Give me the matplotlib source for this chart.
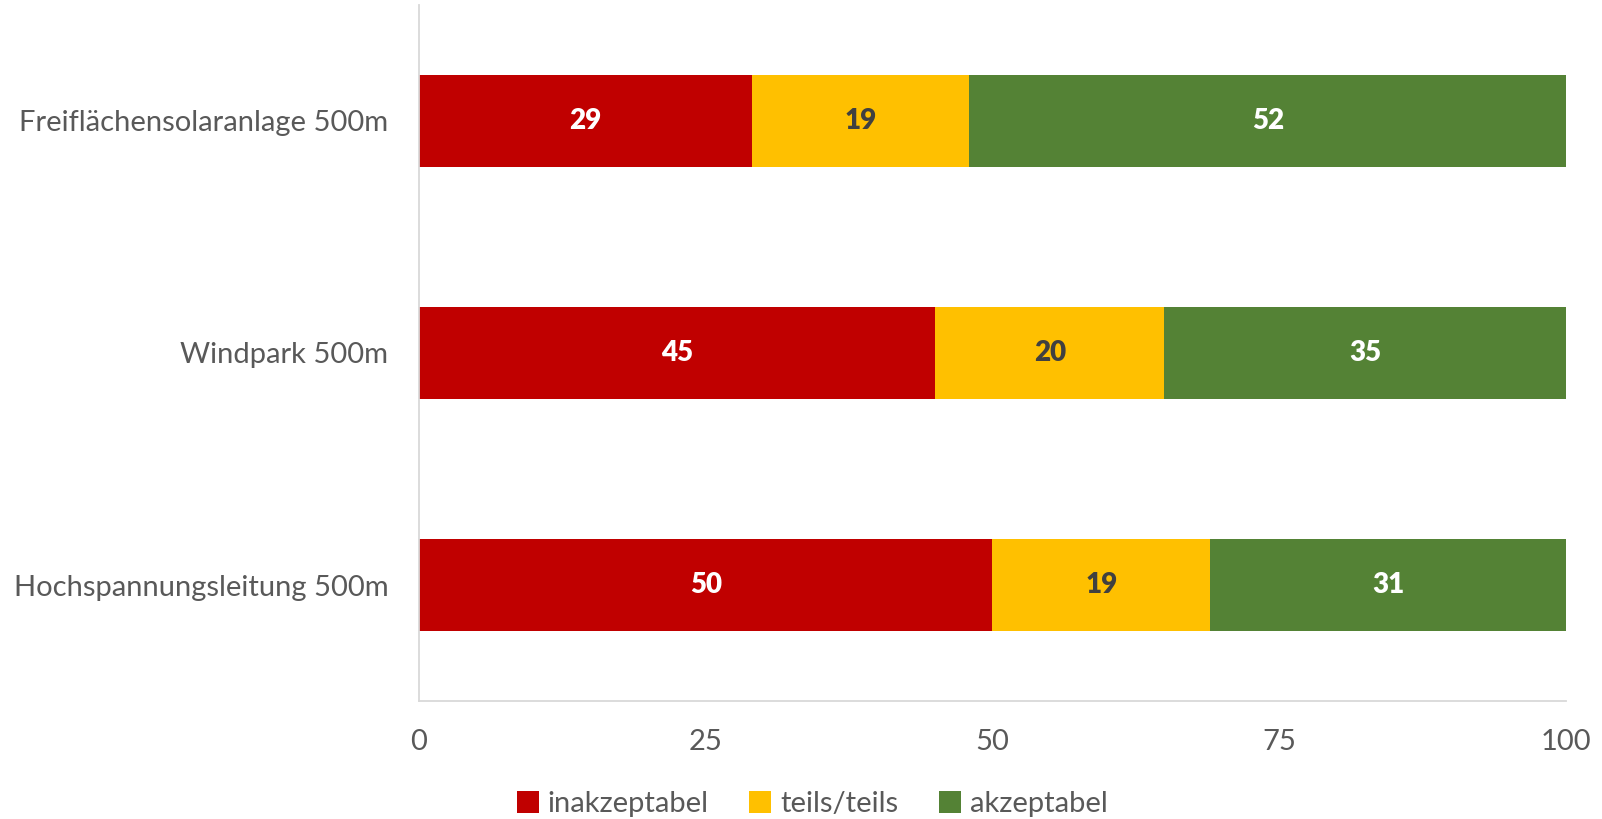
import matplotlib.pyplot as plt
import numpy as np

plt.rcParams['font.family'] = ['Lato', 'DejaVu Sans']

categories = ['Freiflächensolaranlage 500m', 'Windpark 500m', 'Hochspannungsleitung 500m']
inakzeptabel = [29, 45, 50]
teils = [19, 20, 19]
akzeptabel = [52, 35, 31]
series_names = ['inakzeptabel', 'teils/teils', 'akzeptabel']
colors = ['#C00000', '#FFC000', '#548235']
label_colors = ['white', '#404040', 'white']

fig = plt.figure(figsize=(16.02, 8.19), dpi=100)
ax = fig.add_axes([0.2615, 0.144, 0.9775 - 0.2615, 0.994 - 0.144])

y = np.arange(len(categories))[::-1]
left = np.zeros(len(categories))
for vals, name, col, lc in zip([inakzeptabel, teils, akzeptabel], series_names, colors, label_colors):
    bars = ax.barh(y, vals, left=left, height=0.4, color=col, label=name)
    ax.bar_label(bars, labels=[str(v) for v in vals], label_type='center',
                 color=lc, fontsize=20, fontweight='heavy')
    left += np.array(vals)

ax.set_xlim(0, 100)
ax.set_ylim(-0.5, len(categories) - 0.5)
ax.set_xticks([0, 25, 50, 75, 100])
ax.set_yticks(y)
ax.set_yticklabels(categories)
ax.tick_params(length=0, labelsize=21, colors='#595959')
ax.tick_params(axis='x', pad=20)
ax.tick_params(axis='y', pad=22)

for s in ['top', 'right']:
    ax.spines[s].set_visible(False)
for s in ['left', 'bottom']:
    ax.spines[s].set_color('#D9D9D9')
    ax.spines[s].set_linewidth(1.3)

fig.legend(loc='lower center', bbox_to_anchor=(0.507, -0.03), ncol=3, frameon=False,
           fontsize=21, labelcolor='#595959', handlelength=0.75, handleheight=0.75,
           handletextpad=0.3, columnspacing=1.4)

fig.savefig('out.png', dpi=100)
